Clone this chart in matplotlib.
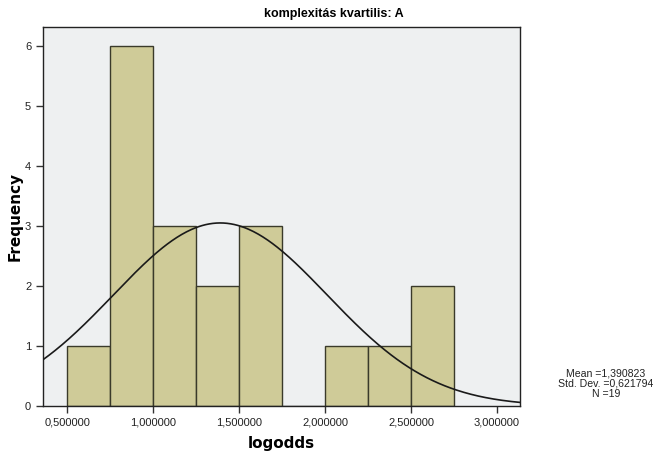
import numpy as np
import matplotlib
matplotlib.use("Agg")
import matplotlib.pyplot as plt
from matplotlib.ticker import FuncFormatter

# Histogram of logodds, bins of width 0.25
bin_edges = [0.50, 0.75, 1.00, 1.25, 1.50, 1.75, 2.00, 2.25, 2.50, 2.75]
counts = [1, 6, 3, 2, 3, 0, 1, 1, 2]
mean = 1.390823
std_dev = 0.621794
n_obs = 19
x_ticks = [0.5, 1.0, 1.5, 2.0, 2.5, 3.0]
y_ticks = [0, 1, 2, 3, 4, 5, 6]

fig = plt.figure(figsize=(6.67, 4.54), dpi=100)
ax = fig.add_axes([43 / 667, 1 - 406 / 454, (520 - 43) / 667, (406 - 27) / 454])
ax.set_facecolor("#eef0f1")

lefts = bin_edges[:-1]
widths = np.diff(bin_edges)
ax.bar(lefts, counts, width=widths, align="edge", color="#cfcb98",
       edgecolor="#3a3a2a", linewidth=1.0, zorder=2)

# Normal curve scaled to the histogram
bw = widths[0]
xs = np.linspace(0.36, 3.134, 400)
ys = n_obs * bw / (std_dev * np.sqrt(2 * np.pi)) * np.exp(-0.5 * ((xs - mean) / std_dev) ** 2)
ax.plot(xs, ys, color="#1a1a1a", linewidth=1.2, zorder=3)

ax.set_xlim(0.36, 3.134)
ax.set_ylim(0, 6.31)
ax.set_xticks(x_ticks)
ax.set_yticks(y_ticks)
ax.xaxis.set_major_formatter(FuncFormatter(lambda v, p: f"{v:.6f}".replace(".", ",")))
ax.tick_params(axis="both", direction="out", length=5, width=1, color="#333333",
               labelsize=8, labelcolor="#222222")
for lab in ax.get_xticklabels() + ax.get_yticklabels():
    lab.set_family("Liberation Sans")
for s in ax.spines.values():
    s.set_color("#222222")
    s.set_linewidth(1.0)

ax.set_xlabel("logodds", fontsize=11, fontweight="bold", labelpad=6)
ax.set_ylabel("Frequency", fontsize=11, fontweight="bold", labelpad=2)
fig.text(0.5, 1 - 14 / 454, "komplexitás kvartilis: A", ha="center", va="center",
         fontsize=9, fontweight="bold", family="Liberation Sans")

fmt = lambda v: f"{v:.6f}".replace(".", ",")
stat_lines = [f"Mean ={fmt(mean)}", f"Std. Dev. ={fmt(std_dev)}", f"N ={n_obs}"]
for i, line in enumerate(stat_lines):
    fig.text(606 / 667, 1 - (373 + 10.5 * i) / 454, line, ha="center", va="center",
             fontsize=7.6, family="Liberation Sans", color="#222222")

fig.savefig("out.png", dpi=100)
